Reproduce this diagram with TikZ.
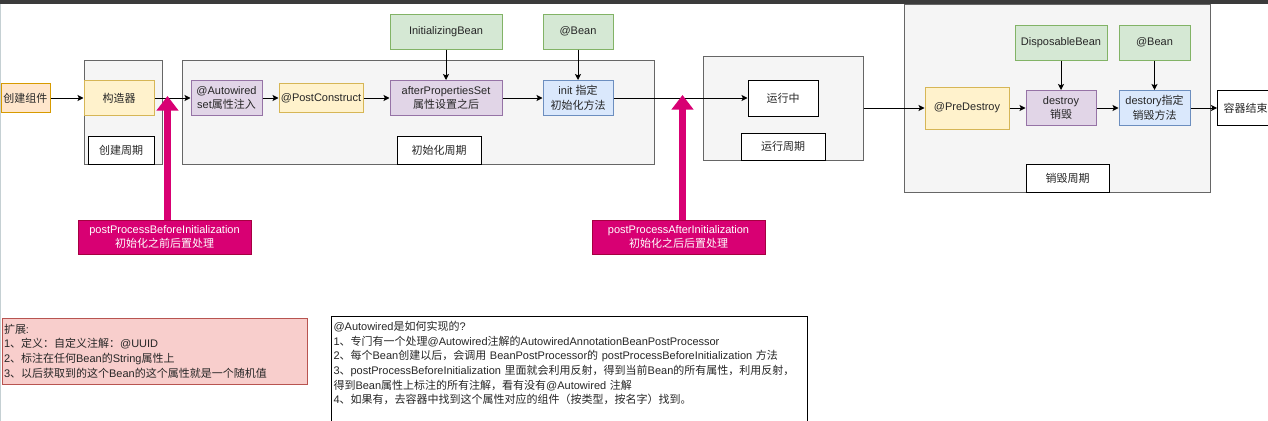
\documentclass[tikz,border=0pt]{standalone}
\usepackage{fontspec}
\setmainfont{Liberation Sans}
\newfontfamily\cjkfont{Noto Sans CJK SC}
% switch to the CJK font for Chinese characters and full-width punctuation
\XeTeXinterchartokenstate=1
\newXeTeXintercharclass\cjkclass
\newcount\cjkcnt
\def\cjkrange#1#2{\cjkcnt=#1\relax
  \loop\XeTeXcharclass\cjkcnt=\cjkclass\relax
  \ifnum\cjkcnt<#2\relax\advance\cjkcnt by 1\relax\repeat}
\cjkrange{"4E00}{"9FFF}
\cjkrange{"3000}{"303F}
\cjkrange{"FF00}{"FFEF}
\XeTeXinterchartoks 0 \cjkclass = {\cjkfont}
\XeTeXinterchartoks 4095 \cjkclass = {\cjkfont}
\XeTeXinterchartoks \cjkclass 0 = {\rmfamily}
\XeTeXinterchartoks \cjkclass 4095 = {\rmfamily}
\usetikzlibrary{arrows.meta,positioning}
\definecolor{orgfill}{HTML}{FFE6CC}\definecolor{orgline}{HTML}{D79B00}
\definecolor{ylwfill}{HTML}{FFF2CC}\definecolor{ylwline}{HTML}{D6B656}
\definecolor{prpfill}{HTML}{E1D5E7}\definecolor{prpline}{HTML}{9673A6}
\definecolor{grnfill}{HTML}{D5E8D4}\definecolor{grnline}{HTML}{82B366}
\definecolor{blufill}{HTML}{DAE8FC}\definecolor{bluline}{HTML}{6C8EBF}
\definecolor{redfill}{HTML}{F8CECC}\definecolor{redline}{HTML}{B85450}
\definecolor{grpfill}{HTML}{F5F5F5}\definecolor{grpline}{HTML}{666666}
\definecolor{hookfill}{HTML}{D80073}\definecolor{hookline}{HTML}{A50040}
\definecolor{barcol}{HTML}{3B3B3B}\definecolor{edgecol}{HTML}{C5D0D3}
\tikzset{
  box/.style={rectangle, draw, line width=0.75pt, align=center, inner sep=1pt,
    font=\fontsize{8.25}{11}\selectfont, text=black!85},
  wh/.style 2 args={minimum width=#1*0.75pt, minimum height=#2*0.75pt},
  plain/.style={box, fill=white, draw=black},
  orangebox/.style={box, fill=orgfill, draw=orgline},
  yellowbox/.style={box, fill=ylwfill, draw=ylwline},
  purplebox/.style={box, fill=prpfill, draw=prpline},
  greenbox/.style={box, fill=grnfill, draw=grnline},
  bluebox/.style={box, fill=blufill, draw=bluline},
  group/.style={box, fill=grpfill, draw=grpline},
  hookbox/.style={box, fill=hookfill, draw=hookline, text=white},
  note/.style={box, align=left, inner xsep=1.5pt, inner ysep=2pt},
  arr/.style={-{Stealth[length=4.5pt,width=4.5pt,inset=1pt]}, line width=0.75pt},
  hookarr/.style={-{Triangle[length=11pt,width=16pt]}, line width=5.5pt, draw=hookfill}
}

\begin{document}
\begin{tikzpicture}[x=0.75pt, y=-0.75pt]
\clip (0,0) rectangle (1268,421);
\fill[white] (0,0) rectangle (1268,421);
\fill[barcol] (0,0) rectangle (1268,3.5);
\fill[edgecol] (0,3.5) rectangle (1.5,421);

% lifecycle groups
\node[group, wh={78}{104}] (grpCreate) at (123,112) {};
\node[group, wh={472}{104}] (grpInit) at (418,112) {};
\node[group, wh={160}{104}] (grpRun) at (783,108) {};
\node[group, wh={306}{188}] (grpDestroy) at (1057,98) {};
\node[plain, wh={66}{28}] (tagCreate) at (121,150) {创建周期};
\node[plain, wh={84}{28}] (tagInit) at (439,150) {初始化周期};
\node[plain, wh={84}{27}] (tagRun) at (783,146.5) {运行周期};
\node[plain, wh={83}{28}] (tagDestroy) at (1067.5,178) {销毁周期};

% creation and initialisation
\node[orangebox, wh={49}{29}] (start) at (25.5,98) {创建组件};
\node[yellowbox, wh={70}{35}] (ctor) at (119,98) {构造器};
\node[purplebox, wh={71}{35}] (autowired) at (226.5,98) {@Autowired\\set属性注入};
\node[yellowbox, wh={84}{29}] (postConstruct) at (321,98) {@PostConstruct};
\node[purplebox, wh={112}{35}] (afterProps) at (446,98) {afterPropertiesSet\\属性设置之后};
\node[greenbox, wh={112}{35}] (initBean) at (446,31.5) {InitializingBean};
\node[greenbox, wh={70}{35}] (beanInit) at (578,31.5) {@Bean};
\node[bluebox, wh={70}{35}] (initMethod) at (578,98) {init 指定\\初始化方法};
\node[plain, wh={70}{36}] (running) at (783,98) {运行中};

% destruction
\node[yellowbox, wh={84}{42}] (preDestroy) at (967,108) {@PreDestroy};
\node[purplebox, wh={70}{35}] (destroy) at (1061,108) {destroy\\销毁};
\node[greenbox, wh={92}{35}] (disposable) at (1061,42.5) {DisposableBean};
\node[bluebox, wh={71}{35}] (destroyMethod) at (1154.5,108) {destory指定\\销毁方法};
\node[greenbox, wh={71}{35}] (beanDestroy) at (1154.5,42.5) {@Bean};
\node[plain, wh={72}{35}, anchor=west, align=left, text width=60*0.75pt, inner xsep=4.5pt] (containerEnd) at (1217,108) {容器结束};

% post processors
\node[hookbox, wh={173}{34}] (hookBefore) at (164.5,237) {postProcessBeforeInitialization\\初始化之前后置处理};
\node[hookbox, wh={173}{34}] (hookAfter) at (678.5,237) {postProcessAfterInitialization\\初始化之后后置处理};
\coordinate (tipBefore) at (167.5,96);
\coordinate (tipAfter) at (682.5,95);

% notes
\node[note, fill=redfill, draw=redline, wh={305}{66}, text width=301*0.75pt] (noteExt) at (154.5,351)
  {扩展:\\1、定义：自定义注解：@UUID\\2、标注在任何Bean的String属性上\\3、以后获取到的这个Bean的这个属性就是一个随机值};
\node[note, fill=white, draw=black, anchor=north west, inner ysep=3.5pt, text width=472*0.75pt, text depth=100pt] (noteAuto) at (331,316)
  {@Autowired是如何实现的?\\1、专门有一个处理@Autowired注解的AutowiredAnnotationBeanPostProcessor\\2、每个Bean创建以后，会调用 BeanPostProcessor的 postProcessBeforeInitialization 方法\\3、postProcessBeforeInitialization 里面就会利用反射，得到当前Bean的所有属性，利用反射，\\得到Bean属性上标注的所有注解，看有没有@Autowired 注解\\4、如果有，去容器中找到这个属性对应的组件（按类型，按名字）找到。};

\draw[arr] (start) -- (ctor);
\draw[arr] (ctor) -- (autowired);
\draw[arr] (autowired) -- (postConstruct);
\draw[arr] (postConstruct) -- (afterProps);
\draw[arr] (afterProps) -- (initMethod);
\draw[arr] (initMethod) -- (running);
\draw[arr] (initBean) -- (afterProps);
\draw[arr] (beanInit) -- (initMethod);
\draw[arr] (grpRun) -- (preDestroy);
\draw[arr] (preDestroy) -- (destroy);
\draw[arr] (destroy) -- (destroyMethod);
\draw[arr] (destroyMethod) -- (containerEnd);
\draw[arr] (disposable) -- (destroy);
\draw[arr] (beanDestroy) -- (destroyMethod);

\draw[hookarr] (tipBefore |- hookBefore.north) -- (tipBefore);
\draw[hookarr] (tipAfter |- hookAfter.north) -- (tipAfter);
\end{tikzpicture}
\end{document}
